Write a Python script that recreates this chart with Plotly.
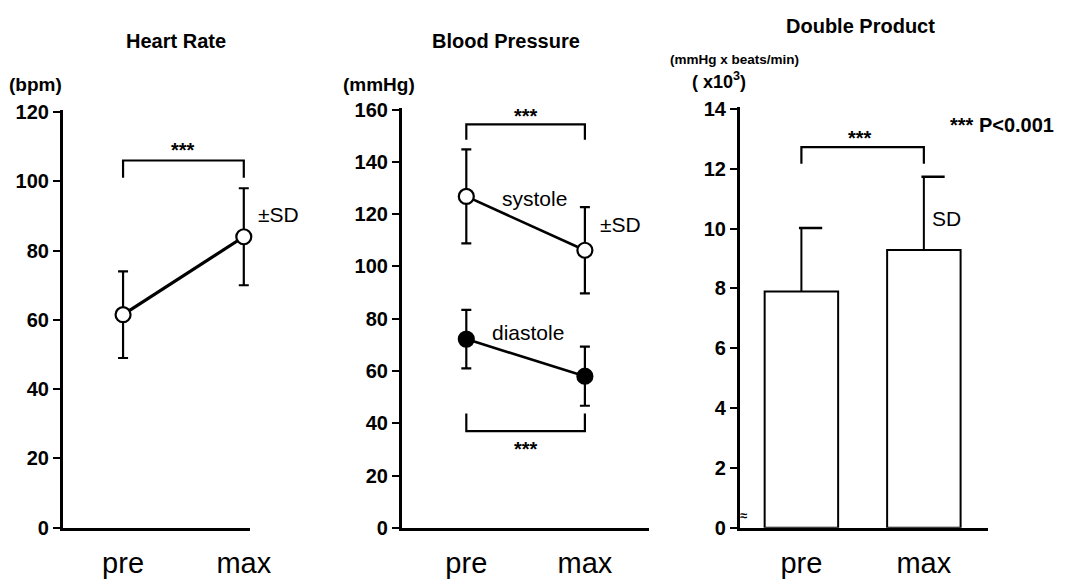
import plotly.graph_objects as go

# ---------------- data ----------------
phases = ["pre", "max"]
hr_mean = [61.5, 84.0]
hr_sd = [12.5, 14.0]
sys_mean = [126.8, 106.2]
sys_sd = [18.0, 16.5]
dia_mean = [72.2, 58.0]
dia_sd = [11.2, 11.3]
dp_mean = [7.9, 9.28]
dp_sd = [2.12, 2.45]
hr_ticks = [0, 20, 40, 60, 80, 100, 120]
bp_ticks = [0, 20, 40, 60, 80, 100, 120, 140, 160]
dp_ticks = [0, 2, 4, 6, 8, 10, 12, 14]

W, H = 1084, 587
FONT = "Liberation Sans, Arial, Helvetica, sans-serif"


def px(x):
    return x / W


def py(y):
    return 1 - y / H


xpos = [0, 1]
fig = go.Figure()

marker_open = dict(symbol="circle", size=15, color="white", line=dict(color="black", width=2.2))
marker_fill = dict(symbol="circle", size=15, color="black", line=dict(color="black", width=2.2))


def err(sd):
    return dict(type="data", array=sd, visible=True, color="black", thickness=2.2, width=5)


# Heart rate
fig.add_trace(go.Scatter(x=xpos, y=hr_mean, mode="lines+markers", error_y=err(hr_sd),
                         line=dict(color="black", width=3.2), marker=marker_open,
                         xaxis="x", yaxis="y", cliponaxis=False))
# Blood pressure
fig.add_trace(go.Scatter(x=xpos, y=sys_mean, mode="lines+markers", error_y=err(sys_sd),
                         line=dict(color="black", width=2.6), marker=marker_open,
                         xaxis="x2", yaxis="y2", cliponaxis=False))
fig.add_trace(go.Scatter(x=xpos, y=dia_mean, mode="lines+markers", error_y=err(dia_sd),
                         line=dict(color="black", width=2.6), marker=marker_fill,
                         xaxis="x2", yaxis="y2", cliponaxis=False))
# Double product bars with upward SD whiskers
fig.add_trace(go.Bar(x=xpos, y=dp_mean, width=0.6,
                     marker=dict(color="white", line=dict(color="black", width=2)),
                     error_y=dict(type="data", symmetric=False, array=dp_sd, arrayminus=[0, 0],
                                  color="black", thickness=2, width=0),
                     xaxis="x3", yaxis="y3"))
# one-sided caps of the whiskers (to the right, as in the original)
cap_len = 0.17
for xi, m, s in zip(xpos, dp_mean, dp_sd):
    fig.add_trace(go.Scatter(x=[xi - 0.02, xi + cap_len], y=[m + s, m + s], mode="lines",
                             line=dict(color="black", width=2.5), xaxis="x3", yaxis="y3",
                             hoverinfo="skip"))


def xax(domain, rng, anchor):
    return dict(domain=domain, range=rng, anchor=anchor, tickvals=xpos, ticktext=phases,
                showline=True, linecolor="black", linewidth=2.5, ticks="outside", ticklen=8,
                tickcolor="rgba(0,0,0,0)", showgrid=False, zeroline=False,
                tickfont=dict(family=FONT, size=29, color="black"), fixedrange=True)


def yax(anchor, rng, ticks, dom):
    return dict(anchor=anchor, domain=dom, range=rng, tickvals=ticks, showline=True,
                linecolor="black", linewidth=2.5, ticks="outside", ticklen=7, tickwidth=2,
                tickcolor="black", showgrid=False, zeroline=False,
                tickfont=dict(family=FONT, size=20, color="black", weight="bold"), fixedrange=True)


fig.update_layout(
    width=W, height=H, margin=dict(l=0, r=0, t=0, b=0),
    paper_bgcolor="white", plot_bgcolor="white", showlegend=False,
    xaxis=xax([px(64), px(255)], [-0.5, 1.05], "y"),
    yaxis=yax("x", [0, 120.5], hr_ticks, [py(537), py(104)]),
    xaxis2=xax([px(410), px(662)], [-0.545, 1.537], "y2"),
    yaxis2=yax("x2", [0, 160.5], bp_ticks, [py(537), py(102)]),
    xaxis3=xax([px(755), px(1008)], [-0.504, 1.52], "y3"),
    yaxis3=yax("x3", [0, 14.05], dp_ticks, [py(537), py(101)]),
)


def bracket(xref, yref, y_low, y_high):
    fig.add_shape(type="path", xref=xref, yref=yref,
                  path=f"M 0 {y_low} L 0 {y_high} L 1 {y_high} L 1 {y_low}",
                  line=dict(color="black", width=2.2))


bracket("x", "y", 101, 106)
bracket("x2", "y2", 148.5, 154.4)
bracket("x2", "y2", 43.7, 37)
bracket("x3", "y3", 12.17, 12.72)


def txt(x, y, s, size=16, bold=False, xanchor="center"):
    fig.add_annotation(x=px(x), y=py(y), xref="paper", yref="paper", text=s, showarrow=False,
                       xanchor=xanchor, yanchor="middle",
                       font=dict(family=FONT, size=size, color="black",
                                 weight="bold" if bold else "normal"))


txt(180, 32, "Heart Rate", 20, True)
txt(516, 32, "Blood Pressure", 20, True)
txt(878, 17, "Double Product", 20, True)
txt(7, 77, "(bpm)", 19, True, "left")
txt(348, 77, "(mmHg)", 19, True, "left")
txt(682, 51, "(mmHg x beats/min)", 13.5, True, "left")
txt(704, 73, "( x10<sup>3</sup>)", 18, True, "left")
txt(187, 145, "***", 20, True)
txt(284, 212, "±SD", 21)
txt(546, 195, "systole", 21)
txt(633, 222, "±SD", 21)
txt(539, 334, "diastole", 21)
txt(537, 110, "***", 20, True)
txt(537, 455, "***", 20, True)
txt(878, 133, "***", 20, True)
txt(968, 119, "*** P<0.001", 20, True, "left")
txt(966, 216, "SD", 21)
txt(759, 524, "≈", 13, True)

fig.write_html(
    "out.html",
    config={"displayModeBar": False},
    post_script="document.body.style.margin='0';document.body.style.overflow='hidden';",
)
